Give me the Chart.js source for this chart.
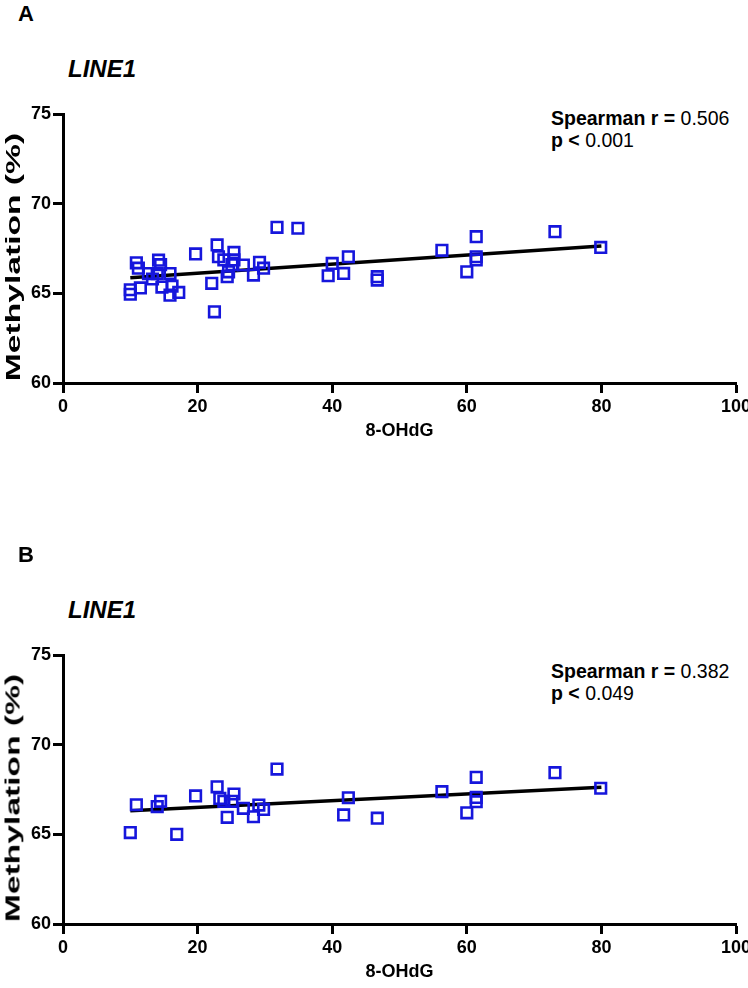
<!DOCTYPE html>
<html>
<head>
<meta charset="utf-8">
<script src="https://cdn.jsdelivr.net/npm/chart.js@4.4.1/dist/chart.umd.min.js"></script>
<style>
  html, body { margin: 0; padding: 0; background: #fff; }
  body { width: 748px; height: 988px; position: relative; overflow: hidden; font-family: "Liberation Sans", Arial, sans-serif; color: #000; }
  .panel { position: absolute; left: 0; width: 748px; }
  .lbl { position: absolute; font-weight: bold; font-size: 22px; line-height: 1; }
  .gene { position: absolute; font-weight: bold; font-style: italic; font-size: 24px; line-height: 1; }
  .stat { position: absolute; font-size: 19.5px; line-height: 22px; white-space: nowrap; }
  .stat b { font-weight: bold; }
  .ytitle { position: absolute; font-weight: bold; font-size: 21px; line-height: 1; white-space: nowrap;
            transform: translate(-50%, -50%) rotate(-90deg) scaleX(1.6); }
  canvas { position: absolute; left: 0; }
</style>
</head>
<body>
<div class="lbl" style="left:18px; top:3px;">A</div>
<div class="gene" style="left:68px; top:57px;">LINE1</div>
<div class="stat" style="left:551px; top:107px;"><b>Spearman r =</b> <span id="rA"></span><br><b>p &lt;</b> <span id="pA"></span></div>
<div class="panel" style="top:0; height:442px;"><canvas id="chartA" width="748" height="442"></canvas></div>
<div class="ytitle" id="ytA" style="left:12px; top:257px;"></div>

<div class="lbl" style="left:18px; top:544px;">B</div>
<div class="gene" style="left:68px; top:598px;">LINE1</div>
<div class="stat" style="left:551px; top:660px;"><b>Spearman r =</b> <span id="rB"></span><br><b>p &lt;</b> <span id="pB"></span></div>
<div class="panel" style="top:541px; height:442px;"><canvas id="chartB" width="748" height="442"></canvas></div>
<div class="ytitle" id="ytB" style="left:12px; top:798px;"></div>

<script>
// ---- data ----
const xTicks = [0, 20, 40, 60, 80, 100];
const yTicks = [60, 65, 70, 75];
const xTitle = '8-OHdG';
const yTitle = 'Methylation (%)';

const ohdgA = [10.0, 10.0, 10.9, 11.2, 11.5, 12.7, 13.3, 14.2, 14.5, 14.0, 14.7, 15.9, 15.9, 16.2, 17.2, 19.7,
               22.5, 22.1, 22.9, 23.1, 23.9, 24.4, 24.6, 25.1, 25.4, 25.4, 26.8, 28.3, 29.2, 29.8, 31.8, 34.9,
               39.4, 40.0, 41.7, 42.4, 46.7, 46.7, 56.3, 60.0, 61.4, 61.4, 61.4, 73.1, 79.9];
const methA = [65.2, 64.95, 66.7, 66.4, 65.3, 66.1, 65.8, 66.85, 66.6, 66.1, 65.35, 66.1, 64.9, 65.4, 65.05, 67.2,
               63.97, 65.56, 67.7, 67.04, 66.86, 65.93, 66.2, 66.6, 67.28, 66.86, 66.58, 66.02, 66.73, 66.4, 68.68, 68.63,
               65.98, 66.67, 66.11, 67.04, 65.93, 65.74, 67.4, 66.2, 68.16, 67.04, 66.86, 68.44, 67.56];

const ohdgB = [10.0, 10.9, 14.0, 14.5, 16.9, 19.7, 22.9, 23.3, 23.9, 24.4, 25.1, 25.4, 26.8, 28.3, 29.1, 29.8,
               31.8, 41.7, 42.4, 46.7, 56.3, 60.0, 61.4, 61.4, 61.4, 73.1, 79.9];
const methB = [65.1, 66.65, 66.55, 66.84, 65.0, 67.14, 67.65, 67.0, 66.84, 65.95, 66.84, 67.25, 66.45, 65.98, 66.63, 66.39,
               68.64, 66.08, 67.04, 65.9, 67.38, 66.2, 68.18, 67.06, 66.82, 68.44, 67.57];

const fitX = [10.0, 80.0];
const fitA = [65.87, 67.64];
const fitB = [66.32, 67.62];

const spearmanA = "0.506", pA = "0.001";
const spearmanB = "0.382", pB = "0.049";

document.getElementById('rA').textContent = spearmanA;
document.getElementById('pA').textContent = pA;
document.getElementById('rB').textContent = spearmanB;
document.getElementById('pB').textContent = pB;
document.getElementById('ytA').textContent = yTitle;
document.getElementById('ytB').textContent = yTitle;

const FONT = '"Liberation Sans", Arial, sans-serif';
const BLUE = '#1616dc';

function makeChart(id, xs, ys, fit) {
  const pts = xs.map((x, i) => ({ x: x, y: ys[i] }));
  const line = fitX.map((x, i) => ({ x: x, y: fit[i] }));
  return new Chart(document.getElementById(id), {
    type: 'scatter',
    data: {
      datasets: [
        { data: pts, pointStyle: 'rect', pointRadius: 7.5, pointHoverRadius: 7.5,
          borderColor: BLUE, backgroundColor: 'rgba(0,0,0,0)', pointBorderWidth: 2.6, order: 1 },
        { data: line, showLine: true, borderColor: '#000', borderWidth: 3.5, pointRadius: 0, order: 2 }
      ]
    },
    options: {
      responsive: false, animation: false, devicePixelRatio: 1,
      plugins: { legend: { display: false }, tooltip: { enabled: false } },
      layout: { padding: { top: 114, right: 12, left: 0, bottom: 0 } },
      scales: {
        x: {
          type: 'linear', min: 0, max: 100,
          afterBuildTicks: s => { s.ticks = xTicks.map(v => ({ value: v })); },
          afterFit: s => { s.height = 59; s.paddingLeft = 0; s.paddingRight = 0; },
          border: { display: true, color: '#000', width: 3 },
          grid: { display: true, drawOnChartArea: false, drawTicks: true, tickLength: 10, tickWidth: 3, tickColor: '#000' },
          ticks: { color: '#000', padding: 3, maxRotation: 0, font: { family: FONT, size: 18, weight: 'bold' } },
          title: { display: true, text: xTitle, color: '#000', padding: 0, font: { family: FONT, size: 18, weight: 'bold' } }
        },
        y: {
          type: 'linear', min: 60, max: 75,
          afterBuildTicks: s => { s.ticks = yTicks.map(v => ({ value: v })); },
          afterFit: s => { s.width = 63; s.paddingTop = 0; s.paddingBottom = 0; },
          border: { display: true, color: '#000', width: 3 },
          grid: { display: true, drawOnChartArea: false, drawTicks: true, tickLength: 10, tickWidth: 3, tickColor: '#000' },
          ticks: { color: '#000', padding: 2, font: { family: FONT, size: 18, weight: 'bold' } },
          title: { display: false }
        }
      }
    }
  });
}

makeChart('chartA', ohdgA, methA, fitA);
makeChart('chartB', ohdgB, methB, fitB);
</script>
</body>
</html>
